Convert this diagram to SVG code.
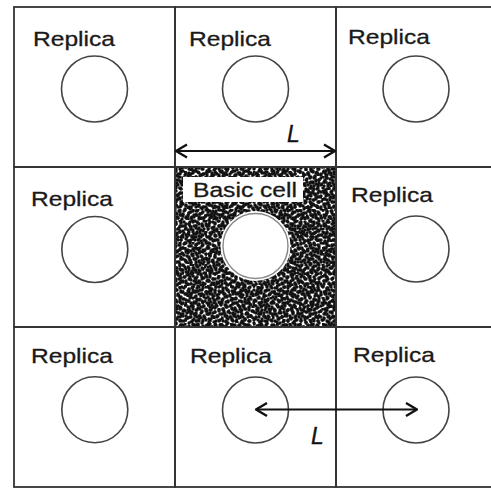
<svg xmlns="http://www.w3.org/2000/svg" width="491" height="488" viewBox="0 0 491 488">
<style>
.cell{fill:none;stroke:#333;stroke-width:1.8}
.ring{fill:none;stroke:#444;stroke-width:1.6}
.lbl{font-family:"Liberation Sans",Arial,sans-serif;font-size:21px;fill:#1a1a1a;stroke:#1a1a1a;stroke-width:0.3}
.ital{font-family:"Liberation Sans",Arial,sans-serif;font-size:23px;font-style:italic;fill:#111;stroke:#111;stroke-width:0.3}
.arr{stroke:#111;stroke-width:2;fill:none}
</style>
<defs>
<pattern id="p1" width="17" height="17" patternUnits="userSpaceOnUse">
<g fill="#111"><circle cx="2" cy="3" r="1.7"/><circle cx="6" cy="1" r="1.7"/><circle cx="11" cy="2" r="1.7"/><circle cx="15" cy="5" r="1.7"/><circle cx="4" cy="8" r="1.7"/><circle cx="9" cy="7" r="1.7"/><circle cx="13" cy="10" r="1.7"/><circle cx="1" cy="12" r="1.7"/><circle cx="7" cy="13" r="1.7"/><circle cx="12" cy="15" r="1.7"/><circle cx="16" cy="14" r="1.7"/><circle cx="5" cy="16" r="1.7"/><circle cx="10" cy="11" r="1.7"/><circle cx="3" cy="5" r="1.7"/></g>
</pattern>
<pattern id="p2" width="23" height="19" patternUnits="userSpaceOnUse">
<g fill="#111"><circle cx="1" cy="1" r="1.7"/><circle cx="5" cy="4" r="1.7"/><circle cx="9" cy="2" r="1.7"/><circle cx="14" cy="1" r="1.7"/><circle cx="19" cy="3" r="1.7"/><circle cx="22" cy="7" r="1.7"/><circle cx="3" cy="9" r="1.7"/><circle cx="8" cy="8" r="1.7"/><circle cx="12" cy="6" r="1.7"/><circle cx="17" cy="9" r="1.7"/><circle cx="20" cy="12" r="1.7"/><circle cx="2" cy="15" r="1.7"/><circle cx="6" cy="13" r="1.7"/><circle cx="11" cy="12" r="1.7"/><circle cx="15" cy="15" r="1.7"/><circle cx="19" cy="17" r="1.7"/><circle cx="7" cy="18" r="1.7"/><circle cx="12" cy="17" r="1.7"/><circle cx="16" cy="5" r="1.7"/><circle cx="4" cy="6" r="1.7"/></g>
</pattern>
<pattern id="p3" width="13" height="11" patternUnits="userSpaceOnUse">
<g fill="#111"><circle cx="2" cy="2" r="1.7"/><circle cx="7" cy="4" r="1.7"/><circle cx="11" cy="1" r="1.7"/><circle cx="4" cy="8" r="1.7"/><circle cx="9" cy="9" r="1.7"/><circle cx="12" cy="6" r="1.7"/><circle cx="1" cy="6" r="1.7"/><circle cx="6" cy="10" r="1.7"/></g>
</pattern>
<marker id="chev" viewBox="0 0 13 16" refX="12" refY="8" markerWidth="13" markerHeight="16" markerUnits="userSpaceOnUse" orient="auto-start-reverse">
<polyline points="1,1.5 12,8 1,14.5" fill="none" stroke="#111" stroke-width="2.4"/>
</marker>
</defs>
<rect width="491" height="488" fill="#fff"/>

<g id="basic-cell">
<rect x="175" y="167" width="161" height="160" fill="#fff"/>
<rect x="175" y="167" width="161" height="160" fill="url(#p1)"/>
<rect x="175" y="167" width="161" height="160" fill="url(#p2)"/>
<rect x="175" y="167" width="161" height="160" fill="url(#p3)"/>
<circle cx="255.5" cy="246" r="35" fill="#fff"/>
<circle cx="255.5" cy="246" r="32.5" fill="#fff" stroke="#888" stroke-width="1.4"/>
<rect x="183" y="177" width="120" height="25" fill="#fff"/>
<text class="lbl" x="193" y="196.5" textLength="104" lengthAdjust="spacingAndGlyphs" style="font-size:20px">Basic cell</text>
<rect class="cell" x="175" y="167" width="161" height="160"/>
</g>

<g id="replica-r1c1"><rect class="cell" x="14" y="7" width="161" height="160"/><circle class="ring" cx="94.5" cy="89" r="33"/><text class="lbl" x="33" y="46" textLength="82" lengthAdjust="spacingAndGlyphs">Replica</text></g>
<g id="replica-r1c2"><rect class="cell" x="175" y="7" width="161" height="160"/><circle class="ring" cx="255.5" cy="89" r="33"/><text class="lbl" x="189" y="46" textLength="82" lengthAdjust="spacingAndGlyphs">Replica</text></g>
<g id="replica-r1c3"><rect class="cell" x="336" y="7" width="161" height="160"/><circle class="ring" cx="416" cy="89" r="33"/><text class="lbl" x="348" y="44" textLength="82" lengthAdjust="spacingAndGlyphs">Replica</text></g>
<g id="replica-r2c1"><rect class="cell" x="14" y="167" width="161" height="160"/><circle class="ring" cx="94.8" cy="249.5" r="33"/><text class="lbl" x="31" y="206" textLength="82" lengthAdjust="spacingAndGlyphs">Replica</text></g>
<g id="replica-r2c3"><rect class="cell" x="336" y="167" width="161" height="160"/><circle class="ring" cx="416" cy="249" r="33"/><text class="lbl" x="351" y="202" textLength="82" lengthAdjust="spacingAndGlyphs">Replica</text></g>
<g id="replica-r3c1"><rect class="cell" x="14" y="327" width="161" height="160"/><circle class="ring" cx="94.8" cy="409.7" r="33"/><text class="lbl" x="31" y="363" textLength="82" lengthAdjust="spacingAndGlyphs">Replica</text></g>
<g id="replica-r3c2"><rect class="cell" x="175" y="327" width="161" height="160"/><circle class="ring" cx="255.5" cy="410" r="33"/><text class="lbl" x="190" y="363" textLength="82" lengthAdjust="spacingAndGlyphs">Replica</text></g>
<g id="replica-r3c3"><rect class="cell" x="336" y="327" width="161" height="160"/><circle class="ring" cx="416" cy="410" r="33"/><text class="lbl" x="353" y="362" textLength="82" lengthAdjust="spacingAndGlyphs">Replica</text></g>

<g id="connectors">
<line class="arr" x1="176" y1="151" x2="335" y2="151" marker-start="url(#chev)" marker-end="url(#chev)"/>
<text class="ital" x="287" y="142">L</text>
<line class="arr" x1="256" y1="409.5" x2="417" y2="409.5" marker-start="url(#chev)" marker-end="url(#chev)"/>
<text class="ital" x="311" y="444">L</text>
</g>
</svg>
